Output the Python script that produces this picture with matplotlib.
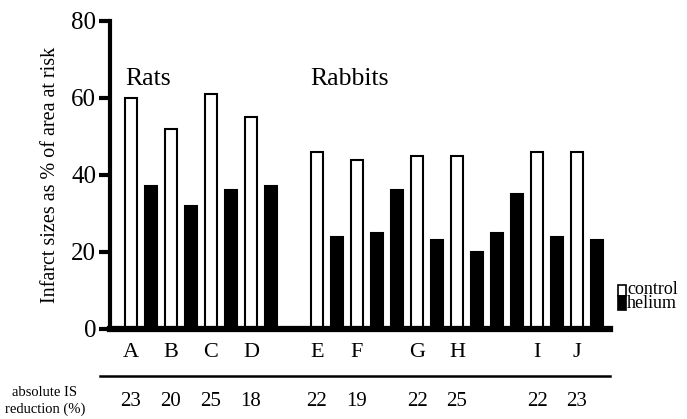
import numpy as np
import matplotlib
matplotlib.use('Agg')
import matplotlib.pyplot as plt
from matplotlib.lines import Line2D
from matplotlib.patches import Rectangle

plt.rcParams['font.family'] = ['Liberation Serif', 'DejaVu Serif']

# Bars in drawing order: value and type (c = control, h = helium)
rat_values = [60, 37, 52, 32, 61, 36, 55, 37]
rat_kinds = ['c', 'h', 'c', 'h', 'c', 'h', 'c', 'h']
rabbit_values = [46, 24, 44, 25, 36, 45, 23, 45, 20, 25, 35, 46, 24, 46, 23]
rabbit_kinds = ['c', 'h', 'c', 'h', 'h', 'c', 'h', 'c', 'h', 'h', 'h', 'c', 'h', 'c', 'h']

study_labels = ['A', 'B', 'C', 'D', 'E', 'F', 'G', 'H', 'I', 'J']
reductions = [23, 20, 25, 18, 22, 19, 22, 25, 22, 23]
yticks = [0, 20, 40, 60, 80]

rabbit_offset = 9.3
x_rats = np.arange(len(rat_values))
x_rabbits = rabbit_offset + np.arange(len(rabbit_values))
xs = np.concatenate([x_rats, x_rabbits])
values = rat_values + rabbit_values
kinds = rat_kinds + rabbit_kinds

fig = plt.figure(figsize=(6.87, 4.19), dpi=100)
ax = fig.add_axes([0.160, 0.215, 0.728, 0.735])

colors = ['white' if k == 'c' else 'black' for k in kinds]
ax.bar(xs, values, width=0.6, color=colors, edgecolor='black', linewidth=1.5, zorder=2)

ax.set_xlim(-1.05, 23.95)
ax.set_ylim(0, 80)
ax.set_yticks(yticks)
ax.set_yticklabels([str(t) for t in yticks], fontsize=18)
ax.set_xticks([])
for s in ['top', 'right']:
    ax.spines[s].set_visible(False)
ax.spines['left'].set_linewidth(3)
ax.spines['bottom'].set_linewidth(4.5)
ax.spines['bottom'].set_zorder(3)
ax.tick_params(axis='y', width=3, length=8, pad=2)
ax.set_ylabel('Infarct sizes as % of area at risk', fontsize=14.5, labelpad=8)

# group titles
ax.text(x_rats[0] - 0.3, 65, 'Rats', fontsize=18.5, va='center', ha='left')
ax.text(x_rabbits[0] - 0.35, 65, 'Rabbits', fontsize=18.5, va='center', ha='left')

# study letters and reductions under control bars
x_control = xs[np.array(kinds) == 'c']
trans = ax.get_xaxis_transform()
for x, lab, red in zip(x_control, study_labels, reductions):
    ax.text(x, -0.075, lab, transform=trans, ha='center', va='center', fontsize=16)
    ax.text(x, -0.237, str(red), transform=trans, ha='center', va='center', fontsize=15)

fig.add_artist(Line2D([100 / 687, 610 / 687], [43 / 419, 43 / 419], color='black', linewidth=1.8))
fig.text(45 / 687, 27 / 419, 'absolute IS', ha='center', va='center', fontsize=10.5)
fig.text(45 / 687, 10 / 419, 'reduction (%)', ha='center', va='center', fontsize=10.5)

# legend
fig.add_artist(Rectangle((618 / 687, 123 / 419), 8 / 687, 11 / 419, facecolor='white',
                         edgecolor='black', linewidth=1.2))
fig.add_artist(Rectangle((618 / 687, 109 / 419), 8 / 687, 14 / 419, facecolor='black',
                         edgecolor='black', linewidth=1.2))
fig.text(627 / 687, 130 / 419, 'control', ha='left', va='center', fontsize=13)
fig.text(627 / 687, 116 / 419, 'helium', ha='left', va='center', fontsize=13)

fig.savefig('out.png', dpi=100)
